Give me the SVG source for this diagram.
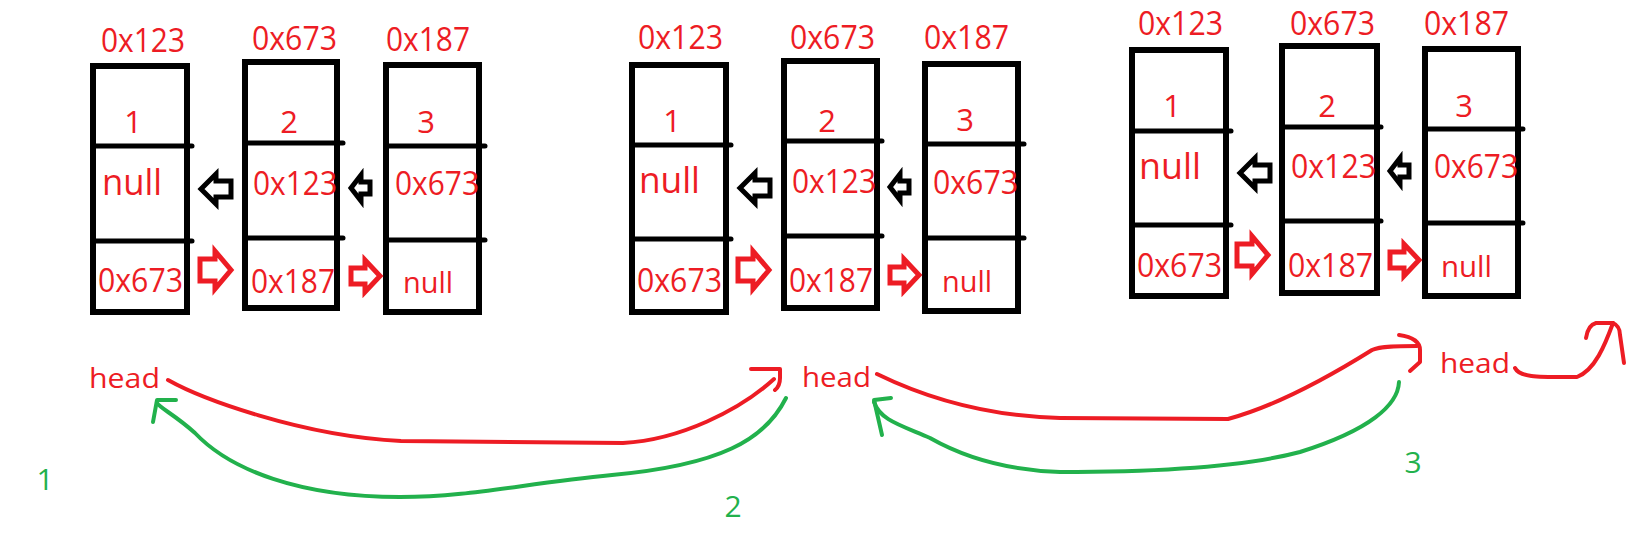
<svg xmlns="http://www.w3.org/2000/svg" xmlns:xlink="http://www.w3.org/1999/xlink" width="1648" height="538" viewBox="0 0 1648 538">
<style>
.bg{fill:#fff}
.box{fill:none;stroke:#000;stroke-width:6}
.dv{stroke:#000;stroke-width:5;stroke-linecap:round}
.t{font-family:"Open Sans","Liberation Sans",sans-serif;fill:#ED1C24;font-size:32px}
.n{font-size:31px;text-anchor:middle}
.nl{font-size:36px}
.ns{font-size:30px}
.hd{font-size:28px}
.g{font-family:"Open Sans","Liberation Sans",sans-serif;fill:#22B14C;font-size:30px;text-anchor:middle}
.blk{fill:none;stroke:#000;stroke-width:5;stroke-linejoin:miter}
.red{fill:none;stroke:#ED1C24;stroke-width:5;stroke-linejoin:miter}
.rc{fill:none;stroke:#ED1C24;stroke-width:4;stroke-linecap:round;stroke-linejoin:round}
.gc{fill:none;stroke:#22B14C;stroke-width:4;stroke-linecap:round;stroke-linejoin:round}
</style>
<defs>
<path id="bBig" class="blk" d="M0,0 L15,-15 L15,-8 L30,-8 L30,8 L15,8 L15,15 Z"/>
<path id="bSm" class="blk" d="M0,0 L10,-13 L10,-6 L19,-6 L19,6 L10,6 L10,13 Z"/>
<path id="rBig" class="red" d="M0,-11 L15,-11 L15,-19 L31,0 L15,19 L15,11 L0,11 Z"/>
<path id="rSm" class="red" d="M0,-8 L14,-8 L14,-16 L29,0 L14,16 L14,8 L0,8 Z"/>
</defs>
<rect class="bg" x="0" y="0" width="1648" height="538"/>

<!-- Panel 1 -->
<g id="p1-n1">
<rect class="box" x="93" y="66" width="94" height="246"/>
<line class="dv" x1="93" y1="146" x2="192" y2="146"/>
<line class="dv" x1="93" y1="241" x2="192" y2="241"/>
<text class="t" x="101" y="52" textLength="84" lengthAdjust="spacingAndGlyphs">0x123</text>
<text class="t n" x="133" y="133">1</text>
<text class="t nl" x="102" y="195" textLength="60" lengthAdjust="spacingAndGlyphs">null</text>
<text class="t" x="98" y="292" textLength="85" lengthAdjust="spacingAndGlyphs">0x673</text>
</g>
<g id="p1-n2">
<rect class="box" x="245" y="62" width="92" height="246"/>
<line class="dv" x1="245" y1="143" x2="343" y2="143"/>
<line class="dv" x1="245" y1="238" x2="343" y2="238"/>
<text class="t" x="252" y="50" textLength="85" lengthAdjust="spacingAndGlyphs">0x673</text>
<text class="t n" x="289" y="133">2</text>
<text class="t" x="253" y="195" textLength="84" lengthAdjust="spacingAndGlyphs">0x123</text>
<text class="t" x="251" y="293" textLength="84" lengthAdjust="spacingAndGlyphs">0x187</text>
</g>
<g id="p1-n3">
<rect class="box" x="386" y="65" width="93" height="247"/>
<line class="dv" x1="386" y1="146" x2="485" y2="146"/>
<line class="dv" x1="386" y1="240" x2="485" y2="240"/>
<text class="t" x="386" y="51" textLength="84" lengthAdjust="spacingAndGlyphs">0x187</text>
<text class="t n" x="426" y="133">3</text>
<text class="t" x="395" y="195" textLength="84" lengthAdjust="spacingAndGlyphs">0x673</text>
<text class="t ns" x="403" y="293" textLength="50" lengthAdjust="spacingAndGlyphs">null</text>
</g>

<!-- Panel 2 -->
<g id="p2-n1">
<rect class="box" x="632" y="65" width="94" height="247"/>
<line class="dv" x1="632" y1="145" x2="731" y2="145"/>
<line class="dv" x1="632" y1="239" x2="731" y2="239"/>
<text class="t" x="638" y="49" textLength="85" lengthAdjust="spacingAndGlyphs">0x123</text>
<text class="t n" x="672" y="132">1</text>
<text class="t nl" x="639" y="193" textLength="61" lengthAdjust="spacingAndGlyphs">null</text>
<text class="t" x="637" y="292" textLength="85" lengthAdjust="spacingAndGlyphs">0x673</text>
</g>
<g id="p2-n2">
<rect class="box" x="784" y="61" width="93" height="247"/>
<line class="dv" x1="784" y1="141" x2="882" y2="141"/>
<line class="dv" x1="784" y1="236" x2="882" y2="236"/>
<text class="t" x="790" y="49" textLength="85" lengthAdjust="spacingAndGlyphs">0x673</text>
<text class="t n" x="827" y="132">2</text>
<text class="t" x="792" y="193" textLength="84" lengthAdjust="spacingAndGlyphs">0x123</text>
<text class="t" x="789" y="292" textLength="84" lengthAdjust="spacingAndGlyphs">0x187</text>
</g>
<g id="p2-n3">
<rect class="box" x="925" y="64" width="93" height="247"/>
<line class="dv" x1="925" y1="144" x2="1024" y2="144"/>
<line class="dv" x1="925" y1="238" x2="1024" y2="238"/>
<text class="t" x="924" y="49" textLength="85" lengthAdjust="spacingAndGlyphs">0x187</text>
<text class="t n" x="965" y="131">3</text>
<text class="t" x="933" y="194" textLength="85" lengthAdjust="spacingAndGlyphs">0x673</text>
<text class="t ns" x="942" y="292" textLength="50" lengthAdjust="spacingAndGlyphs">null</text>
</g>

<!-- Panel 3 -->
<g id="p3-n1">
<rect class="box" x="1132" y="50" width="94" height="246"/>
<line class="dv" x1="1132" y1="131" x2="1231" y2="131"/>
<line class="dv" x1="1132" y1="225" x2="1231" y2="225"/>
<text class="t" x="1138" y="35" textLength="85" lengthAdjust="spacingAndGlyphs">0x123</text>
<text class="t n" x="1172" y="117">1</text>
<text class="t nl" x="1139" y="179" textLength="62" lengthAdjust="spacingAndGlyphs">null</text>
<text class="t" x="1137" y="277" textLength="85" lengthAdjust="spacingAndGlyphs">0x673</text>
</g>
<g id="p3-n2">
<rect class="box" x="1282" y="46" width="95" height="247"/>
<line class="dv" x1="1282" y1="127" x2="1381" y2="127"/>
<line class="dv" x1="1282" y1="221" x2="1381" y2="221"/>
<text class="t" x="1290" y="35" textLength="85" lengthAdjust="spacingAndGlyphs">0x673</text>
<text class="t n" x="1327" y="117">2</text>
<text class="t" x="1291" y="178" textLength="85" lengthAdjust="spacingAndGlyphs">0x123</text>
<text class="t" x="1288" y="277" textLength="85" lengthAdjust="spacingAndGlyphs">0x187</text>
</g>
<g id="p3-n3">
<rect class="box" x="1425" y="49" width="93" height="247"/>
<line class="dv" x1="1425" y1="129" x2="1523" y2="129"/>
<line class="dv" x1="1425" y1="223" x2="1523" y2="223"/>
<text class="t" x="1424" y="35" textLength="85" lengthAdjust="spacingAndGlyphs">0x187</text>
<text class="t n" x="1464" y="117">3</text>
<text class="t" x="1434" y="178" textLength="84" lengthAdjust="spacingAndGlyphs">0x673</text>
<text class="t ns" x="1441" y="277" textLength="51" lengthAdjust="spacingAndGlyphs">null</text>
</g>

<!-- head labels and step numbers -->
<g id="head1"><text class="t hd" x="89" y="388" textLength="71" lengthAdjust="spacingAndGlyphs">head</text></g>
<g id="head2"><text class="t hd" x="802" y="387" textLength="69" lengthAdjust="spacingAndGlyphs">head</text></g>
<g id="head3"><text class="t hd" x="1440" y="373" textLength="70" lengthAdjust="spacingAndGlyphs">head</text></g>
<g id="step1"><text class="g" x="45" y="490">1</text></g>
<g id="step2"><text class="g" x="733" y="517">2</text></g>
<g id="step3"><text class="g" x="1413" y="473">3</text></g>

<g id="connectors">
<!-- pointer arrows panel 1 -->
<use xlink:href="#bBig" x="201" y="189"/>
<use xlink:href="#bSm" x="351" y="188"/>
<use xlink:href="#rBig" x="200" y="270"/>
<use xlink:href="#rSm" x="351" y="276"/>
<!-- panel 2 -->
<use xlink:href="#bBig" x="740" y="188"/>
<use xlink:href="#bSm" x="890" y="187"/>
<use xlink:href="#rBig" x="738" y="270"/>
<use xlink:href="#rSm" x="890" y="275"/>
<!-- panel 3 -->
<use xlink:href="#bBig" x="1240" y="173"/>
<use xlink:href="#bSm" x="1390" y="171"/>
<use xlink:href="#rBig" x="1237" y="255"/>
<use xlink:href="#rSm" x="1390" y="260"/>

<!-- head moves -->
<path class="rc" d="M168,380 C200,398 300,436 401,441 L623,443 C680,440 740,410 774,379"/>
<path class="rc" d="M751,369 L780,369 L780,378 Q780,386 775,390"/>
<path class="gc" d="M786,398 C765,440 720,465 612,475 C520,484 470,497 400,497 C300,497 230,470 195,433 C175,415 160,408 157,403"/>
<path class="gc" d="M176,400 L157,400 L153,422"/>

<path class="rc" d="M877,374 C920,395 980,416 1060,418 L1228,419 C1280,405 1340,370 1372,350 C1380,346 1400,346 1417,346"/>
<path class="rc" d="M1399,335 Q1420,338 1420,350 L1420,362 L1410,371"/>
<path class="gc" d="M1399,382 C1398,405 1370,430 1300,452 C1240,468 1150,472 1060,472 C1000,470 960,455 930,438 C900,425 880,420 874,402"/>
<path class="gc" d="M891,398 L874,400 L882,435"/>

<path class="rc" d="M1515,368 C1520,378 1540,377 1577,377 C1595,370 1605,345 1613,323"/>
<path class="rc" d="M1586,338 Q1588,325 1596,323 L1613,323 Q1620,326 1620,335 L1624,363"/>
</g>
</svg>
